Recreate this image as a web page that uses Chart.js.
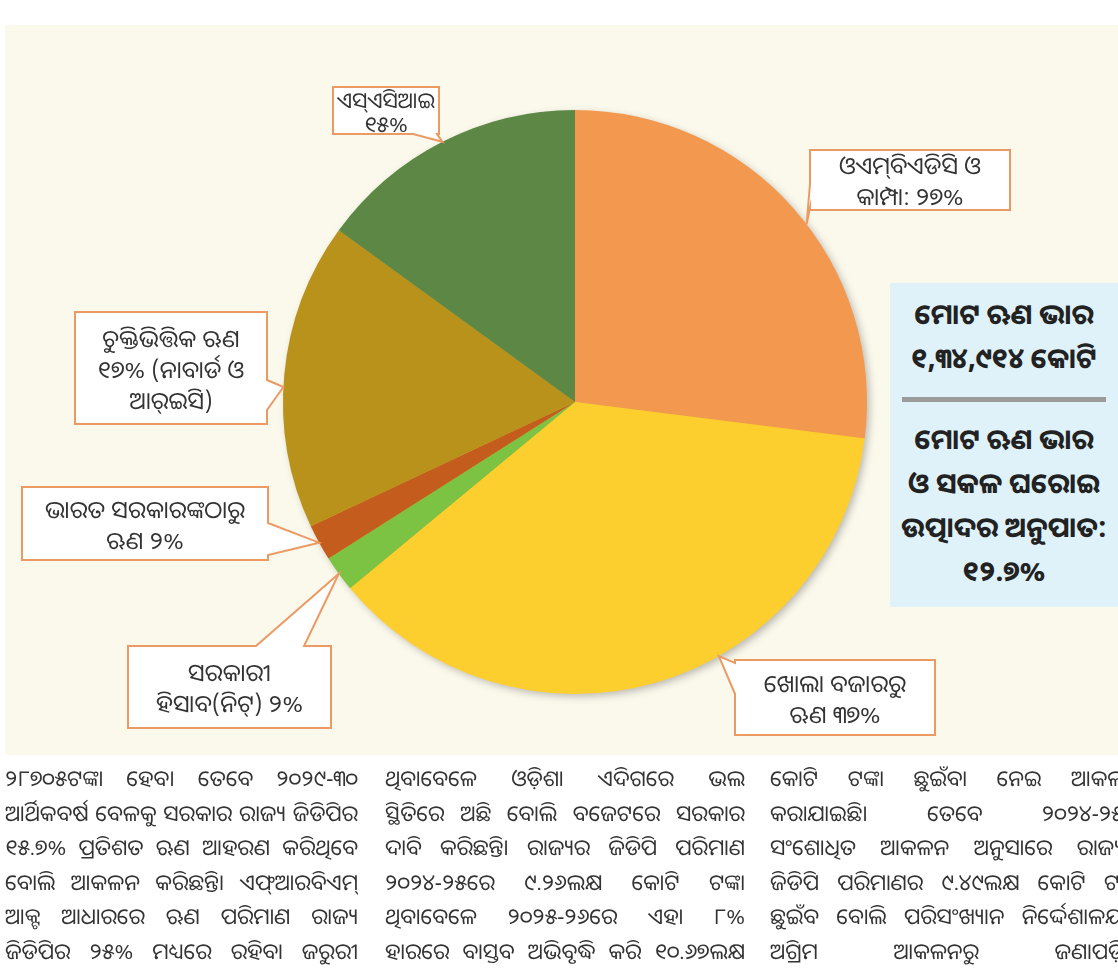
<!DOCTYPE html>
<html>
<head>
<meta charset="utf-8">
<script src="https://cdn.jsdelivr.net/npm/chart.js@4.4.1/dist/chart.umd.min.js"></script>
<style>
  html, body { margin: 0; padding: 0; background: #fff; }
  body {
    width: 1118px; height: 979px; position: relative; overflow: hidden;
    font-family: "Noto Sans Oriya", "Lohit Odia", "Noto Sans", "DejaVu Sans", sans-serif;
    color: #2e2e2e;
  }
  #panel { position: absolute; left: 5px; top: 25px; width: 1113px; height: 730px; background: #fbf8ec; }
  #pie { position: absolute; left: 0; top: 0; }
  .lbl {
    position: absolute; display: flex; flex-direction: column; justify-content: center;
    align-items: center; font-size: 24px; line-height: 31px; text-align: center; color: #333;
    white-space: nowrap;
  }
  .lbl.small { font-size: 22px; line-height: 24px; }
  #info {
    position: absolute; left: 890px; top: 283px; width: 228px; height: 324px;
    background: #dff2fa; font-weight: bold; font-size: 28px; line-height: 44px;
    text-align: center; color: #222;
  }
  #info .rule { height: 5px; background: #9b9b9b; margin: 18px 12px 14px 12px; }
  #info .top { padding-top: 8px; }
  .col { position: absolute; top: 760px; font-size: 22px; line-height: 34.5px; color: #333; }
  .col div { text-align: justify; text-align-last: justify; white-space: nowrap; overflow: hidden; }
</style>
</head>
<body>
<div id="panel"></div>
<canvas id="pie" width="1118" height="979"></canvas>
<div id="info">
  <div class="top">ମୋଟ ଋଣ ଭାର</div>
  <div>୧,୩୪,୯୧୪ କୋଟି</div>
  <div class="rule"></div>
  <div>ମୋଟ ଋଣ ଭାର</div>
  <div>ଓ ସକଳ ଘରୋଇ</div>
  <div>ଉତ୍ପାଦର ଅନୁପାତ:</div>
  <div>୧୨.୭%</div>
</div>
<div class="col" id="col1" style="left:5px; width:353px;"></div>
<div class="col" id="col2" style="left:385px; width:360px;"></div>
<div class="col" id="col3" style="left:770px; width:370px;"></div>

<script>
// ---- data ----
var categories = [
  'ଓଏମ୍‌ବିଏଡିସି ଓ କାମ୍ପା',
  'ଖୋଲା ବଜାରରୁ ଋଣ',
  'ସରକାରୀ ହିସାବ(ନିଟ୍)',
  'ଭାରତ ସରକାରଙ୍କଠାରୁ ଋଣ',
  'ଚୁକ୍ତିଭିତ୍ତିକ ଋଣ (ନାବାର୍ଡ ଓ ଆର୍‌ଇସି)',
  'ଏସ୍‌ଏସିଆଇ'
];
var shares = [27, 37, 2, 2, 17, 15];
var sliceColors = ['#f2994f', '#fdcf2e', '#7cc243', '#c35c1d', '#b8921b', '#5c8744'];

// callout texts, one array of lines per category ({p} = share)
var labelLines = [
  ['ଓଏମ୍‌ବିଏଡିସି ଓ', 'କାମ୍ପା: {p}%'],
  ['ଖୋଲା ବଜାରରୁ', 'ଋଣ {p}%'],
  ['ସରକାରୀ', 'ହିସାବ(ନିଟ୍) {p}%'],
  ['ଭାରତ ସରକାରଙ୍କଠାରୁ', 'ଋଣ {p}%'],
  ['ଚୁକ୍ତିଭିତ୍ତିକ ଋଣ', '{p}% (ନାବାର୍ଡ ଓ', 'ଆର୍‌ଇସି)'],
  ['ଏସ୍‌ଏସିଆଇ', '{p}%']
];

// callout box layout: box rect, side of the pointer, pointer base offsets, where on the slice it points
var boxes = [
  { x: 810, y: 150, w: 200, h: 60, side: 'left', a: 34, b: 58, at: 0.54 },
  { x: 735, y: 660, w: 200, h: 75, side: 'left', a: 3, b: 34, at: 0.40 },
  { x: 128, y: 646, w: 203, h: 82, side: 'top', a: 128, b: 176, at: 0.5 },
  { x: 22, y: 487, w: 246, h: 73, side: 'right', a: 36, b: 68, at: 0.5 },
  { x: 75, y: 312, w: 192, h: 112, side: 'right', a: 68, b: 98, at: 0.46 },
  { x: 333, y: 87, w: 106, h: 47, side: 'bottom', a: 80, b: 104, at: 0.5, small: true }
];

var newsCols = [
  ['୨୮୭୦୫ଟଙ୍କା ହେବ। ତେବେ ୨୦୨୯-୩୦',
   'ଆର୍ଥିକବର୍ଷ ବେଳକୁ ସରକାର ରାଜ୍ୟ ଜିଡିପିର',
   '୧୫.୭% ପ୍ରତିଶତ ଋଣ ଆହରଣ କରିଥିବେ',
   'ବୋଲି ଆକଳନ କରିଛନ୍ତି। ଏଫ୍‌ଆରବିଏମ୍',
   'ଆକ୍ଟ ଆଧାରରେ ଋଣ ପରିମାଣ ରାଜ୍ୟ',
   'ଜିଡିପିର ୨୫% ମଧ୍ୟରେ ରହିବା ଜରୁରୀ'],
  ['ଥିବାବେଳେ ଓଡ଼ିଶା ଏଦିଗରେ ଭଲ',
   'ସ୍ଥିତିରେ ଅଛି ବୋଲି ବଜେଟରେ ସରକାର',
   'ଦାବି କରିଛନ୍ତି। ରାଜ୍ୟର ଜିଡିପି ପରିମାଣ',
   '୨୦୨୪-୨୫ରେ ୯.୨୬ଲକ୍ଷ କୋଟି ଟଙ୍କା',
   'ଥିବାବେଳେ ୨୦୨୫-୨୬ରେ ଏହା ୮%',
   'ହାରରେ ବାସ୍ତବ ଅଭିବୃଦ୍ଧି କରି ୧୦.୬୭ଲକ୍ଷ'],
  ['କୋଟି ଟଙ୍କା ଛୁଇଁବା ନେଇ ଆକଳନ',
   'କରାଯାଇଛି। ତେବେ ୨୦୨୪-୨୫ର',
   'ସଂଶୋଧିତ ଆକଳନ ଅନୁସାରେ ରାଜ୍ୟର',
   'ଜିଡିପି ପରିମାଣର ୯.୪୯ଲକ୍ଷ କୋଟି ଟଙ୍କା',
   'ଛୁଇଁବ ବୋଲି ପରିସଂଖ୍ୟାନ ନିର୍ଦ୍ଦେଶାଳୟର',
   'ଅଗ୍ରିମ ଆକଳନରୁ ଜଣାପଡ଼ିଛି']
];

function toOdia(n) {
  return String(n).replace(/[0-9]/g, function(d) { return String.fromCharCode(0x0B66 + +d); });
}

// news columns
newsCols.forEach(function(lines, c) {
  var col = document.getElementById('col' + (c + 1));
  lines.forEach(function(t) {
    var d = document.createElement('div');
    d.textContent = t;
    col.appendChild(d);
  });
});

// label texts
boxes.forEach(function(b, i) {
  var d = document.createElement('div');
  d.className = b.small ? 'lbl small' : 'lbl';
  d.style.left = b.x + 'px';
  d.style.top = b.y + 'px';
  d.style.width = b.w + 'px';
  d.style.height = b.h + 'px';
  labelLines[i].forEach(function(line) {
    var s = document.createElement('div');
    s.textContent = line.replace('{p}', toOdia(shares[i]));
    d.appendChild(s);
  });
  document.body.appendChild(d);
});

// soft shadow under the pie and callout boxes with pointers
var calloutPlugin = {
  id: 'callouts',
  beforeDatasetsDraw: function(chart) {
    var arc = chart.getDatasetMeta(0).data[0];
    if (!arc) return;
    var ctx = chart.ctx;
    ctx.save();
    ctx.shadowColor = 'rgba(0,0,0,0.28)';
    ctx.shadowBlur = 9;
    ctx.shadowOffsetX = 3;
    ctx.shadowOffsetY = 3;
    ctx.fillStyle = '#e0b040';
    ctx.beginPath();
    ctx.arc(arc.x, arc.y, arc.outerRadius - 1, 0, Math.PI * 2);
    ctx.fill();
    ctx.restore();
  },
  afterDatasetsDraw: function(chart) {
    var ctx = chart.ctx;
    var arcs = chart.getDatasetMeta(0).data;
    boxes.forEach(function(b, i) {
      var arc = arcs[i];
      var ang = arc.startAngle + (arc.endAngle - arc.startAngle) * b.at;
      var tx = arc.x + Math.cos(ang) * arc.outerRadius;
      var ty = arc.y + Math.sin(ang) * arc.outerRadius;
      var x0 = b.x, y0 = b.y, x1 = b.x + b.w, y1 = b.y + b.h;
      var pts = [[x0, y0]];
      if (b.side === 'top') pts.push([x0 + b.a, y0], [tx, ty], [x0 + b.b, y0]);
      pts.push([x1, y0]);
      if (b.side === 'right') pts.push([x1, y0 + b.a], [tx, ty], [x1, y0 + b.b]);
      pts.push([x1, y1]);
      if (b.side === 'bottom') pts.push([x0 + b.b, y1], [tx, ty], [x0 + b.a, y1]);
      pts.push([x0, y1]);
      if (b.side === 'left') pts.push([x0, y0 + b.b], [tx, ty], [x0, y0 + b.a]);
      ctx.save();
      ctx.beginPath();
      pts.forEach(function(p, k) { if (k === 0) ctx.moveTo(p[0], p[1]); else ctx.lineTo(p[0], p[1]); });
      ctx.closePath();
      ctx.fillStyle = '#ffffff';
      ctx.fill();
      ctx.lineWidth = 2;
      ctx.strokeStyle = '#eb9a63';
      ctx.lineJoin = 'miter';
      ctx.stroke();
      ctx.restore();
    });
  }
};

new Chart(document.getElementById('pie'), {
  type: 'pie',
  data: {
    labels: categories,
    datasets: [{
      data: shares,
      backgroundColor: sliceColors,
      borderWidth: 0
    }]
  },
  options: {
    responsive: false,
    animation: false,
    layout: {
      padding: { left: 283, right: 251, top: 110, bottom: 285 }
    },
    plugins: {
      legend: { display: false },
      tooltip: { enabled: false }
    }
  },
  plugins: [calloutPlugin]
});
</script>
</body>
</html>
